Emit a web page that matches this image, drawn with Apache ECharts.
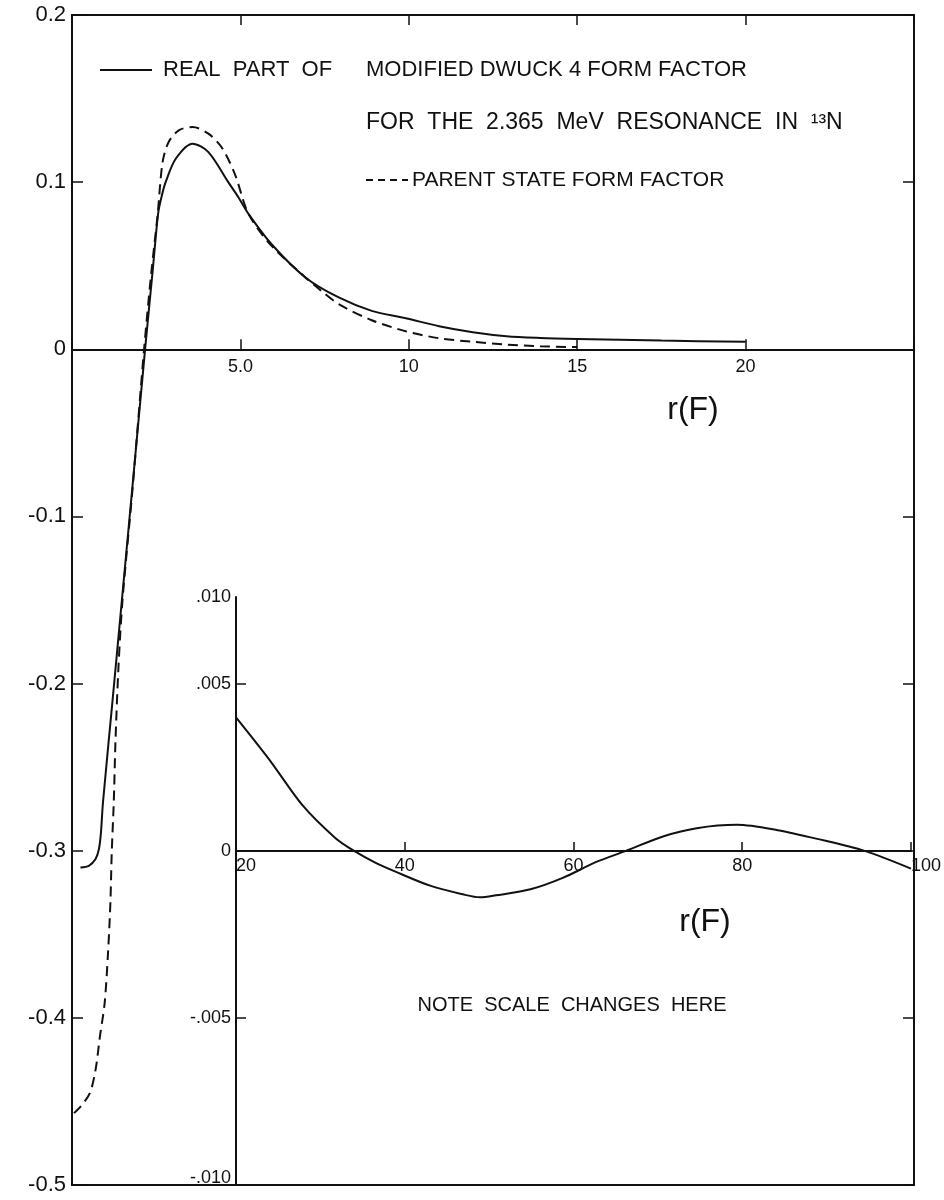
<!DOCTYPE html>
<html><head><meta charset="utf-8">
<script src="https://cdn.jsdelivr.net/npm/echarts@6/dist/echarts.min.js"></script>
<style>html,body{margin:0;padding:0;background:#fff}#c{width:944px;height:1200px}</style>
</head><body><div id="c"></div>
<script>
// ---- Main panel: real part of modified DWUCK4 form factor (solid)
const solidR = [0.25, 0.5, 0.7, 0.8, 0.86, 0.92, 1.2, 1.5, 1.8, 2.17, 2.4, 2.49, 2.57, 2.68, 2.78, 3.08, 3.58, 4.05, 4.64, 4.94, 5.24, 5.92, 6.93, 7.92, 8.9, 9.91, 10.9, 11.9, 12.9, 13.9, 15, 17.5, 20];
const solidV = [-0.310, -0.309, -0.305, -0.299, -0.289, -0.271, -0.211, -0.146, -0.081, 0.0, 0.048, 0.068, 0.083, 0.093, 0.100, 0.114, 0.123, 0.118, 0.100, 0.091, 0.081, 0.063, 0.043, 0.031, 0.023, 0.0186, 0.0138, 0.0102, 0.0078, 0.0068, 0.0062, 0.0052, 0.0045];
// ---- Main panel: parent state form factor (dashed)
const parentR = [0.06, 0.26, 0.53, 0.70, 0.83, 0.97, 1.07, 1.14, 1.18, 1.24, 1.29, 1.38, 1.5, 1.8, 2.14, 2.35, 2.54, 2.69, 2.87, 3.17, 3.58, 4.05, 4.47, 4.85, 5.24, 5.92, 6.93, 7.4, 7.92, 8.9, 9.91, 10.9, 11.9, 12.9, 13.9, 15];
const parentV = [-0.457, -0.453, -0.445, -0.431, -0.411, -0.391, -0.361, -0.331, -0.301, -0.271, -0.235, -0.190, -0.150, -0.083, 0.0, 0.045, 0.080, 0.112, 0.124, 0.131, 0.133, 0.129, 0.120, 0.104, 0.081, 0.062, 0.043, 0.035, 0.027, 0.0174, 0.0108, 0.0066, 0.0045, 0.0028, 0.0018, 0.0013];
// ---- Inset: large-r tail (note scale change)
const insetR = [20, 23.9, 27.9, 31.8, 34.0, 36.5, 38.9, 43.0, 46.9, 48.9, 50.8, 54.9, 58.8, 62.7, 66.2, 70.7, 74.6, 79.4, 84.2, 88.9, 94.5, 100];
const insetV = [0.0040, 0.00275, 0.00136, 0.00038, 0.0, -0.00035, -0.00062, -0.00104, -0.0013, -0.00139, -0.00133, -0.00115, -0.0008, -0.00033, 0.0, 0.00044, 0.00068, 0.00078, 0.00062, 0.00036, 0.0, -0.00053];
// ---- Tick labels
const mainXTickValues = [5, 10, 15, 20];
const mainXTickLabels = ['5.0', '10', '15', '20'];
const insetYTickValues = [-0.010, -0.005, 0, 0.005, 0.0076];
const insetYTickLabels = ['-.010', '-.005', '0', '.005', '.010'];
const insetXTickLabels = ['20', '40', '60', '80', '100'];

const FONT = '"Liberation Sans", Arial, sans-serif';
const INK = '#111';
const zip = (a, b) => a.map((v, i) => [v, b[i]]);

// axis ranges and grid boxes
const MAIN = {top: 15, bottom: 15, yMin: -0.5, yMax: 0.2};
const INSET = {top: 597, bottom: 15, yMin: -0.010, yMax: 0.0076};
const H = 1200;
// offset that puts an x axis on the y = 0 line of its grid
const zeroOffset = g => -(H - g.top - g.bottom) * (0 - g.yMin) / (g.yMax - g.yMin);

const chart = echarts.init(document.getElementById('c'), null, {renderer: 'canvas'});
chart.setOption({
  animation: false,
  backgroundColor: '#fff',
  textStyle: {fontFamily: FONT, color: INK},
  grid: [
    {left: 72, right: 30, top: MAIN.top, bottom: MAIN.bottom, show: true, borderColor: INK, borderWidth: 2, backgroundColor: 'transparent'},
    {left: 236, right: 30, top: INSET.top, bottom: INSET.bottom, show: false}
  ],
  xAxis: [
    {type: 'value', gridIndex: 0, min: 0, max: 25, interval: 5, position: 'bottom', offset: zeroOffset(MAIN),
     axisLine: {onZero: false, lineStyle: {color: INK, width: 2}},
     axisTick: {inside: true, length: 10, lineStyle: {color: INK, width: 1.5}},
     axisLabel: {fontSize: 18, color: INK, fontFamily: FONT, margin: 9,
       formatter: v => { const i = mainXTickValues.indexOf(Math.round(v)); return i >= 0 ? mainXTickLabels[i] : ''; }},
     splitLine: {show: false}},
    {type: 'value', gridIndex: 0, min: 0, max: 25, interval: 5, position: 'top',
     axisLine: {show: false, onZero: false},
     axisTick: {inside: true, length: 10, lineStyle: {color: INK, width: 1.5}},
     axisLabel: {show: false}, splitLine: {show: false}},
    {type: 'value', gridIndex: 1, min: 20, max: 100, interval: 20, position: 'bottom', offset: zeroOffset(INSET),
     axisLine: {onZero: false, lineStyle: {color: INK, width: 2}},
     axisTick: {inside: true, length: 9, lineStyle: {color: INK, width: 1.5}},
     axisLabel: {fontSize: 18, color: INK, fontFamily: FONT, margin: 6,
       alignMinLabel: 'left', alignMaxLabel: 'left', showMinLabel: true, showMaxLabel: true,
       formatter: (v, i) => insetXTickLabels[i]},
     splitLine: {show: false}}
  ],
  yAxis: [
    {type: 'value', gridIndex: 0, min: MAIN.yMin, max: MAIN.yMax, interval: 0.1, position: 'left',
     axisLine: {show: true, onZero: false, lineStyle: {color: INK, width: 2}},
     axisTick: {show: true, inside: true, length: 11, lineStyle: {color: INK, width: 1.5}},
     axisLabel: {fontSize: 22, color: INK, fontFamily: FONT, margin: 6,
       formatter: v => Math.abs(v) < 1e-9 ? '0' : v.toFixed(1)},
     splitLine: {show: false}},
    {type: 'value', gridIndex: 0, min: MAIN.yMin, max: MAIN.yMax, interval: 0.1, position: 'right',
     axisLine: {show: false, onZero: false},
     axisTick: {show: true, inside: true, length: 11, lineStyle: {color: INK, width: 1.5}},
     axisLabel: {show: false}, splitLine: {show: false}},
    {type: 'value', gridIndex: 1, min: INSET.yMin, max: INSET.yMax, position: 'left',
     axisLine: {show: true, onZero: false, lineStyle: {color: INK, width: 2}},
     axisTick: {show: true, inside: true, length: 10, customValues: [-0.005, 0.005], lineStyle: {color: INK, width: 1.5}},
     axisLabel: {fontSize: 18, color: INK, fontFamily: FONT, margin: 5, customValues: insetYTickValues,
       showMinLabel: true, showMaxLabel: true,
       rich: {lo: {fontSize: 18, fontFamily: FONT, color: INK, padding: [0, 0, 14, 0]}},
       formatter: v => {
         let b = 0;
         insetYTickValues.forEach((t, i) => { if (Math.abs(t - v) < Math.abs(insetYTickValues[b] - v)) b = i; });
         return b === 0 ? '{lo|' + insetYTickLabels[b] + '}' : insetYTickLabels[b];
       }},
     splitLine: {show: false}}
  ],
  series: [
    {type: 'line', name: 'real', xAxisIndex: 0, yAxisIndex: 0, data: zip(solidR, solidV),
     showSymbol: false, smooth: 0.3, lineStyle: {color: INK, width: 2}, z: 5},
    {type: 'line', name: 'parent', xAxisIndex: 0, yAxisIndex: 0, data: zip(parentR, parentV),
     showSymbol: false, smooth: 0.3, lineStyle: {color: INK, width: 2, type: [10, 6]}, z: 4},
    {type: 'line', name: 'inset', xAxisIndex: 2, yAxisIndex: 2, data: zip(insetR, insetV),
     showSymbol: false, smooth: 0.3, lineStyle: {color: INK, width: 2}, z: 5}
  ],
  graphic: [
    {type: 'line', shape: {x1: 100, y1: 70, x2: 152, y2: 70}, style: {stroke: INK, lineWidth: 2}},
    {type: 'text', x: 163, y: 70, style: {text: 'REAL  PART  OF', font: '22px ' + FONT, fill: INK, verticalAlign: 'middle'}},
    {type: 'text', x: 366, y: 70, style: {text: 'MODIFIED DWUCK 4 FORM FACTOR', font: '22px ' + FONT, fill: INK, verticalAlign: 'middle'}},
    {type: 'text', x: 366, y: 123, style: {text: 'FOR  THE  2.365  MeV  RESONANCE  IN  ¹³N', font: '23px ' + FONT, fill: INK, verticalAlign: 'middle'}},
    {type: 'line', shape: {x1: 366, y1: 180, x2: 408, y2: 180}, style: {stroke: INK, lineWidth: 2, lineDash: [7, 5]}},
    {type: 'text', x: 412, y: 180, style: {text: 'PARENT STATE FORM FACTOR', font: '21px ' + FONT, fill: INK, verticalAlign: 'middle'}},
    {type: 'text', x: 693, y: 410, style: {text: 'r(F)', font: '32px ' + FONT, fill: INK, align: 'center', verticalAlign: 'middle'}},
    {type: 'text', x: 705, y: 922, style: {text: 'r(F)', font: '32px ' + FONT, fill: INK, align: 'center', verticalAlign: 'middle'}},
    {type: 'text', x: 572, y: 1005, style: {text: 'NOTE  SCALE  CHANGES  HERE', font: '20px ' + FONT, fill: INK, align: 'center', verticalAlign: 'middle'}}
  ]
});
</script></body></html>
